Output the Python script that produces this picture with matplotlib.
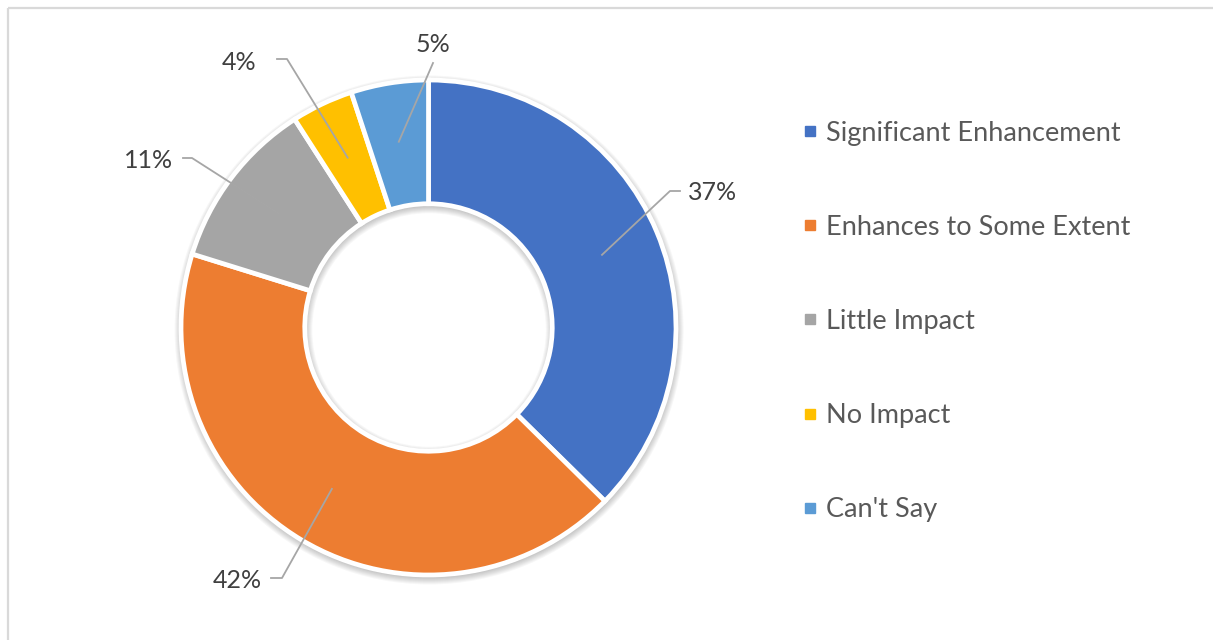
import matplotlib as mpl
mpl.use("agg")
import matplotlib.pyplot as plt
from matplotlib.patches import Wedge
from matplotlib.lines import Line2D
import numpy as np

categories = ["Significant Enhancement", "Enhances to Some Extent", "Little Impact",
              "No Impact", "Can't Say"]
shares = [37, 42, 11, 4, 5]
colors = ["#4472C4", "#ED7D31", "#A5A5A5", "#FFC000", "#5B9BD5"]

plt.rcParams["font.family"] = ["Lato", "DejaVu Sans"]

W, H = 1213, 640
fig = plt.figure(figsize=(W / 100, H / 100), dpi=100)

# chart frame (only top and left edges fall inside the canvas)
fig.add_artist(Line2D([7.5 / W, 7.5 / W], [-0.01, 1 - 8 / H], color="#D9D9D9", lw=1.6,
                      solid_capstyle="butt", transform=fig.transFigure))
fig.add_artist(Line2D([7.5 / W, 1.01], [1 - 8 / H, 1 - 8 / H], color="#D9D9D9", lw=1.6,
                      solid_capstyle="butt", transform=fig.transFigure))

cx, cy, R = 428.5, 327.5, 247.5
ax = fig.add_axes([(cx - R) / W, (H - cy - R) / H, 2 * R / W, 2 * R / H])
ax.set_xlim(-1, 1)
ax.set_ylim(-1, 1)
ax.axis("off")

# soft drop shadow under the ring
px = 1 / R
for s in range(8):
    ax.add_patch(Wedge((0.6 * px, -2.5 * px), 1.0 + s * px, 0, 360,
                       width=0.5 + 2 * s * px, facecolor="black", alpha=0.03,
                       edgecolor="none", zorder=0, clip_on=False))

wedges, _ = ax.pie(shares, colors=colors, startangle=90, counterclock=False,
                   radius=1.0, wedgeprops=dict(width=0.5, edgecolor="white",
                                               linewidth=3.4, zorder=2))
for w in wedges:
    w.set_clip_on(False)
ax.set_xlim(-1, 1)
ax.set_ylim(-1, 1)

# label text anchors (pixels): elbow end, text position, alignment
label_layout = [
    ((680, 191), (670, 191), (688, 193), "left"),
    ((271, 578), (282, 578), (262, 580), "right"),
    ((183, 158), (192, 158), (173, 161), "right"),
    ((277, 59), (287, 59), (256, 62), "right"),
    ((433, 63), None, (433, 45), "center"),
]

def to_data(p):
    return ((p[0] - cx) / R, (cy - p[1]) / R)

for w, val, (end, elbow, txt, ha) in zip(wedges, shares, label_layout):
    mid = np.deg2rad((w.theta1 + w.theta2) / 2)
    anchor = (0.76 * np.cos(mid), 0.76 * np.sin(mid))
    pts = [anchor]
    if elbow is not None:
        pts.append(to_data(elbow))
    pts.append(to_data(end))
    xs, ys = zip(*pts)
    ax.add_line(Line2D(xs, ys, color="#A6A6A6", lw=1.3, zorder=3, clip_on=False))
    tx, ty = to_data(txt)
    ax.text(tx, ty, f"{val}%", ha=ha, va="center", fontsize=18, color="#404040",
            clip_on=False, zorder=4)

handles = [Line2D([], [], marker="s", linestyle="none", markersize=7,
                  markerfacecolor=c, markeredgecolor=c) for c in colors]
fig.legend(handles, categories, loc="upper left", bbox_to_anchor=(791 / W, 1 - 110 / H),
           frameon=False, fontsize=19.5, labelcolor="#595959", handlelength=0.6,
           handletextpad=0.3, labelspacing=2.55, borderaxespad=0)

fig.savefig("out.png", dpi=100)
